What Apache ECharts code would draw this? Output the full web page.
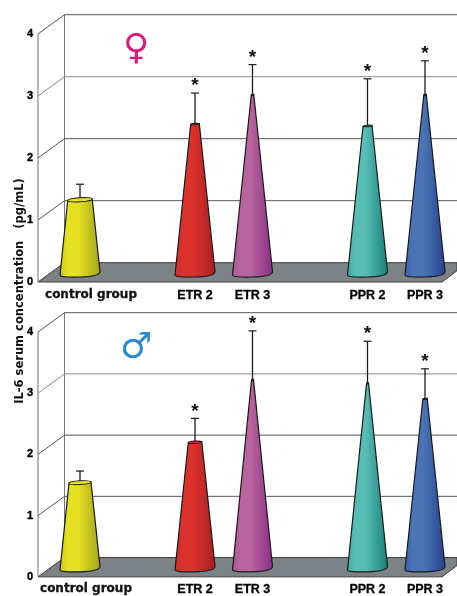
<!DOCTYPE html>
<html><head><meta charset="utf-8">
<style>html,body{margin:0;padding:0;background:#fff}#c{width:457px;height:596px}</style>
<script src="https://cdn.jsdelivr.net/npm/echarts@6/dist/echarts.min.js"></script>
</head><body><div id="c"></div>
<script>
const categories = ['control group', '', 'ETR 2', 'ETR 3', '', 'PPR 2', 'PPR 3'];
const groups = ['control group', 'ETR 2', 'ETR 3', 'PPR 2', 'PPR 3'];
const femaleMeans = [1.19, 2.41, 2.88, 2.38, 2.88];
const femaleErrorTops = [1.44, 2.91, 3.37, 3.14, 3.43];
const maleMeans = [1.40, 2.06, 3.08, 3.02, 2.77];
const maleErrorTops = [1.59, 2.45, 3.88, 3.71, 3.26];
const significant = [false, true, true, true, true];
const ticks = [0, 1, 2, 3, 4];
const colorsEdge = ['#c9c71f', '#c92d2a', '#a8559c', '#3fa8a2', '#3c62a8'];
const colorsLight = ['#e6e120', '#dc322c', '#b9649f', '#58bdb5', '#4a74b6'];
const colorsDark = ['#a3a21e', '#a81e22', '#8a2e86', '#14807a', '#27428e'];

const DX = 26.5, DY = -19.3, BASE_UP = 8.5, BASE_HALF = 20;
const FONT = '"Liberation Sans", Arial, sans-serif';
const WIDE = '"DejaVu Sans", sans-serif';

function wallItem(params, v, y, W) {
  const cs = params.coordSys;
  const left = cs.x - 13.25;
  const stroke = v === 3 ? '#8a8a8a' : '#555';
  const kids = [];
  if (v === 0) {
    const right = cs.x + cs.width - 11.75;
    kids.push({type: 'polygon', shape: {points: [[left, y], [left + DX, y + DY], [W, y + DY], [W, y + DY + 8], [right, y]]},
      style: {fill: '#7c8387', stroke: '#3a3a3a', lineWidth: 1}});
    kids.push({type: 'line', shape: {x1: left, y1: y, x2: left, y2: y - cs.height}, style: {stroke: '#888', lineWidth: 1.2}});
    kids.push({type: 'line', shape: {x1: left + DX, y1: y + DY, x2: left + DX, y2: y + DY - cs.height}, style: {stroke: '#777', lineWidth: 1}});
  } else {
    kids.push({type: 'polyline', shape: {points: [[left, y], [left + DX, y + DY], [W, y + DY]]},
      style: {fill: 'none', stroke: stroke, lineWidth: 1}});
  }
  return {type: 'group', children: kids};
}

function coneItem(params, api) {
  const i = params.dataIndex;
  const idx = api.value(0), val = api.value(1), err = api.value(2);
  const b = api.coord([idx, 0]), t = api.coord([idx, val]), e = api.coord([idx, err]);
  const cx = b[0], by = b[1] - BASE_UP, ty = t[1] - BASE_UP, ey = e[1] - BASE_UP;
  const h = by - ty;
  const top = Math.max(1, BASE_HALF - 0.105 * h);
  const grad = new echarts.graphic.LinearGradient(0, 0, 1, 0, [
    {offset: 0, color: colorsEdge[i]}, {offset: 0.2, color: colorsLight[i]},
    {offset: 0.45, color: colorsLight[i]}, {offset: 1, color: colorsDark[i]}]);
  const path = `M${cx - BASE_HALF} ${by + 1.5} L${cx - top} ${ty + 0.5} L${cx + top} ${ty - 0.5} L${cx + BASE_HALF} ${by - 2}` +
    ` Q${cx + BASE_HALF} ${by + 3} ${cx} ${by + 3.5} Q${cx - BASE_HALF} ${by + 4} ${cx - BASE_HALF} ${by + 1.5} Z`;
  const kids = [
    {type: 'line', shape: {x1: cx, y1: ty, x2: cx, y2: ey}, style: {stroke: '#1c1c1c', lineWidth: 1.3}},
    {type: 'line', shape: {x1: cx - 4, y1: ey, x2: cx + 4, y2: ey}, style: {stroke: '#1c1c1c', lineWidth: 1.2}},
    {type: 'path', shape: {pathData: path}, style: {fill: grad, stroke: '#1a1a1a', lineWidth: 1.2}},
    {type: 'ellipse', shape: {cx: cx, cy: ty, rx: top, ry: Math.max(0.6, top * 0.17)}, rotation: 0.06, originX: cx, originY: ty,
      style: {fill: colorsLight[i], stroke: '#1a1a1a', lineWidth: 1}}
  ];
  if (significant[i]) {
    kids.push({type: 'text', style: {x: cx, y: ey - 1, text: '*', align: 'center', verticalAlign: 'bottom',
      font: 'bold 19px ' + FONT, fill: '#111', lineHeight: 12}});
  }
  return {type: 'group', children: kids};
}

function coneData(means, tops) {
  return groups.map((g, i) => [categories.indexOf(g), means[i], tops[i]]);
}

const grids = [
  {left: 51.25, width: 402.5, top: 34, height: 248},
  {left: 51.25, width: 402.5, top: 332, height: 247.5}
];
const labelMargins = [7, 6];
const controlPad = [22, 12];

const option = {
  animation: false,
  backgroundColor: '#fff',
  grid: grids,
  xAxis: grids.map((g, k) => ({
    type: 'category', gridIndex: k, data: categories, boundaryGap: true,
    axisLine: {show: false}, axisTick: {show: false}, splitLine: {show: false},
    axisLabel: {
      interval: 0, hideOverlap: false, margin: labelMargins[k],
      fontFamily: FONT, fontWeight: 'bold', fontSize: 12.5, color: '#000', textBorderColor: '#000', textBorderWidth: 0.3,
      formatter: v => v === 'control group' ? '{c|' + v + '}' : v,
      rich: {c: {fontFamily: WIDE, fontWeight: 'bold', fontSize: 12, color: '#111', padding: [0, 0, 0, controlPad[k]]}}
    }
  })),
  yAxis: grids.map((g, k) => ({
    type: 'value', gridIndex: k, min: 0, max: 4, interval: 1, offset: 13.25,
    axisLine: {show: false}, axisTick: {show: false}, splitLine: {show: false},
    axisLabel: {margin: 5, fontFamily: FONT, fontWeight: 'bold', fontSize: 11, color: '#000', textBorderColor: '#000', textBorderWidth: 0.4}
  })),
  series: [0, 1].flatMap(k => [
    {type: 'custom', name: 'walls' + k, xAxisIndex: k, yAxisIndex: k, clip: false, silent: true, z: 1,
      data: ticks.map(t => [t]), encode: {y: 0},
      renderItem: (p, a) => { const v = a.value(0); return wallItem(p, v, a.coord([0, v])[1], a.getWidth()); }},
    {type: 'custom', name: k ? 'male' : 'female', xAxisIndex: k, yAxisIndex: k, clip: false, silent: true, z: 3,
      data: k ? coneData(maleMeans, maleErrorTops) : coneData(femaleMeans, femaleErrorTops),
      encode: {x: 0, y: [1, 2]}, renderItem: coneItem}
  ]),
  graphic: [
    {type: 'text', left: 123, top: 32, style: {text: '\u2640', font: 'bold 36px "DejaVu Sans"', fill: '#d81b7c'}},
    {type: 'text', left: 120, top: 331, style: {text: '\u2642', font: 'bold 36px "DejaVu Sans"', fill: '#2b8ccb'}},
    {type: 'text', x: 20, y: 291, rotation: Math.PI / 2,
      style: {text: 'IL-6 serum concentration   (pg/mL)', font: 'bold 11.5px ' + WIDE, fill: '#111', align: 'center', verticalAlign: 'middle'}}
  ]
};
const chart = echarts.init(document.getElementById('c'), null, {renderer: 'canvas'});
chart.setOption(option);
</script></body></html>
